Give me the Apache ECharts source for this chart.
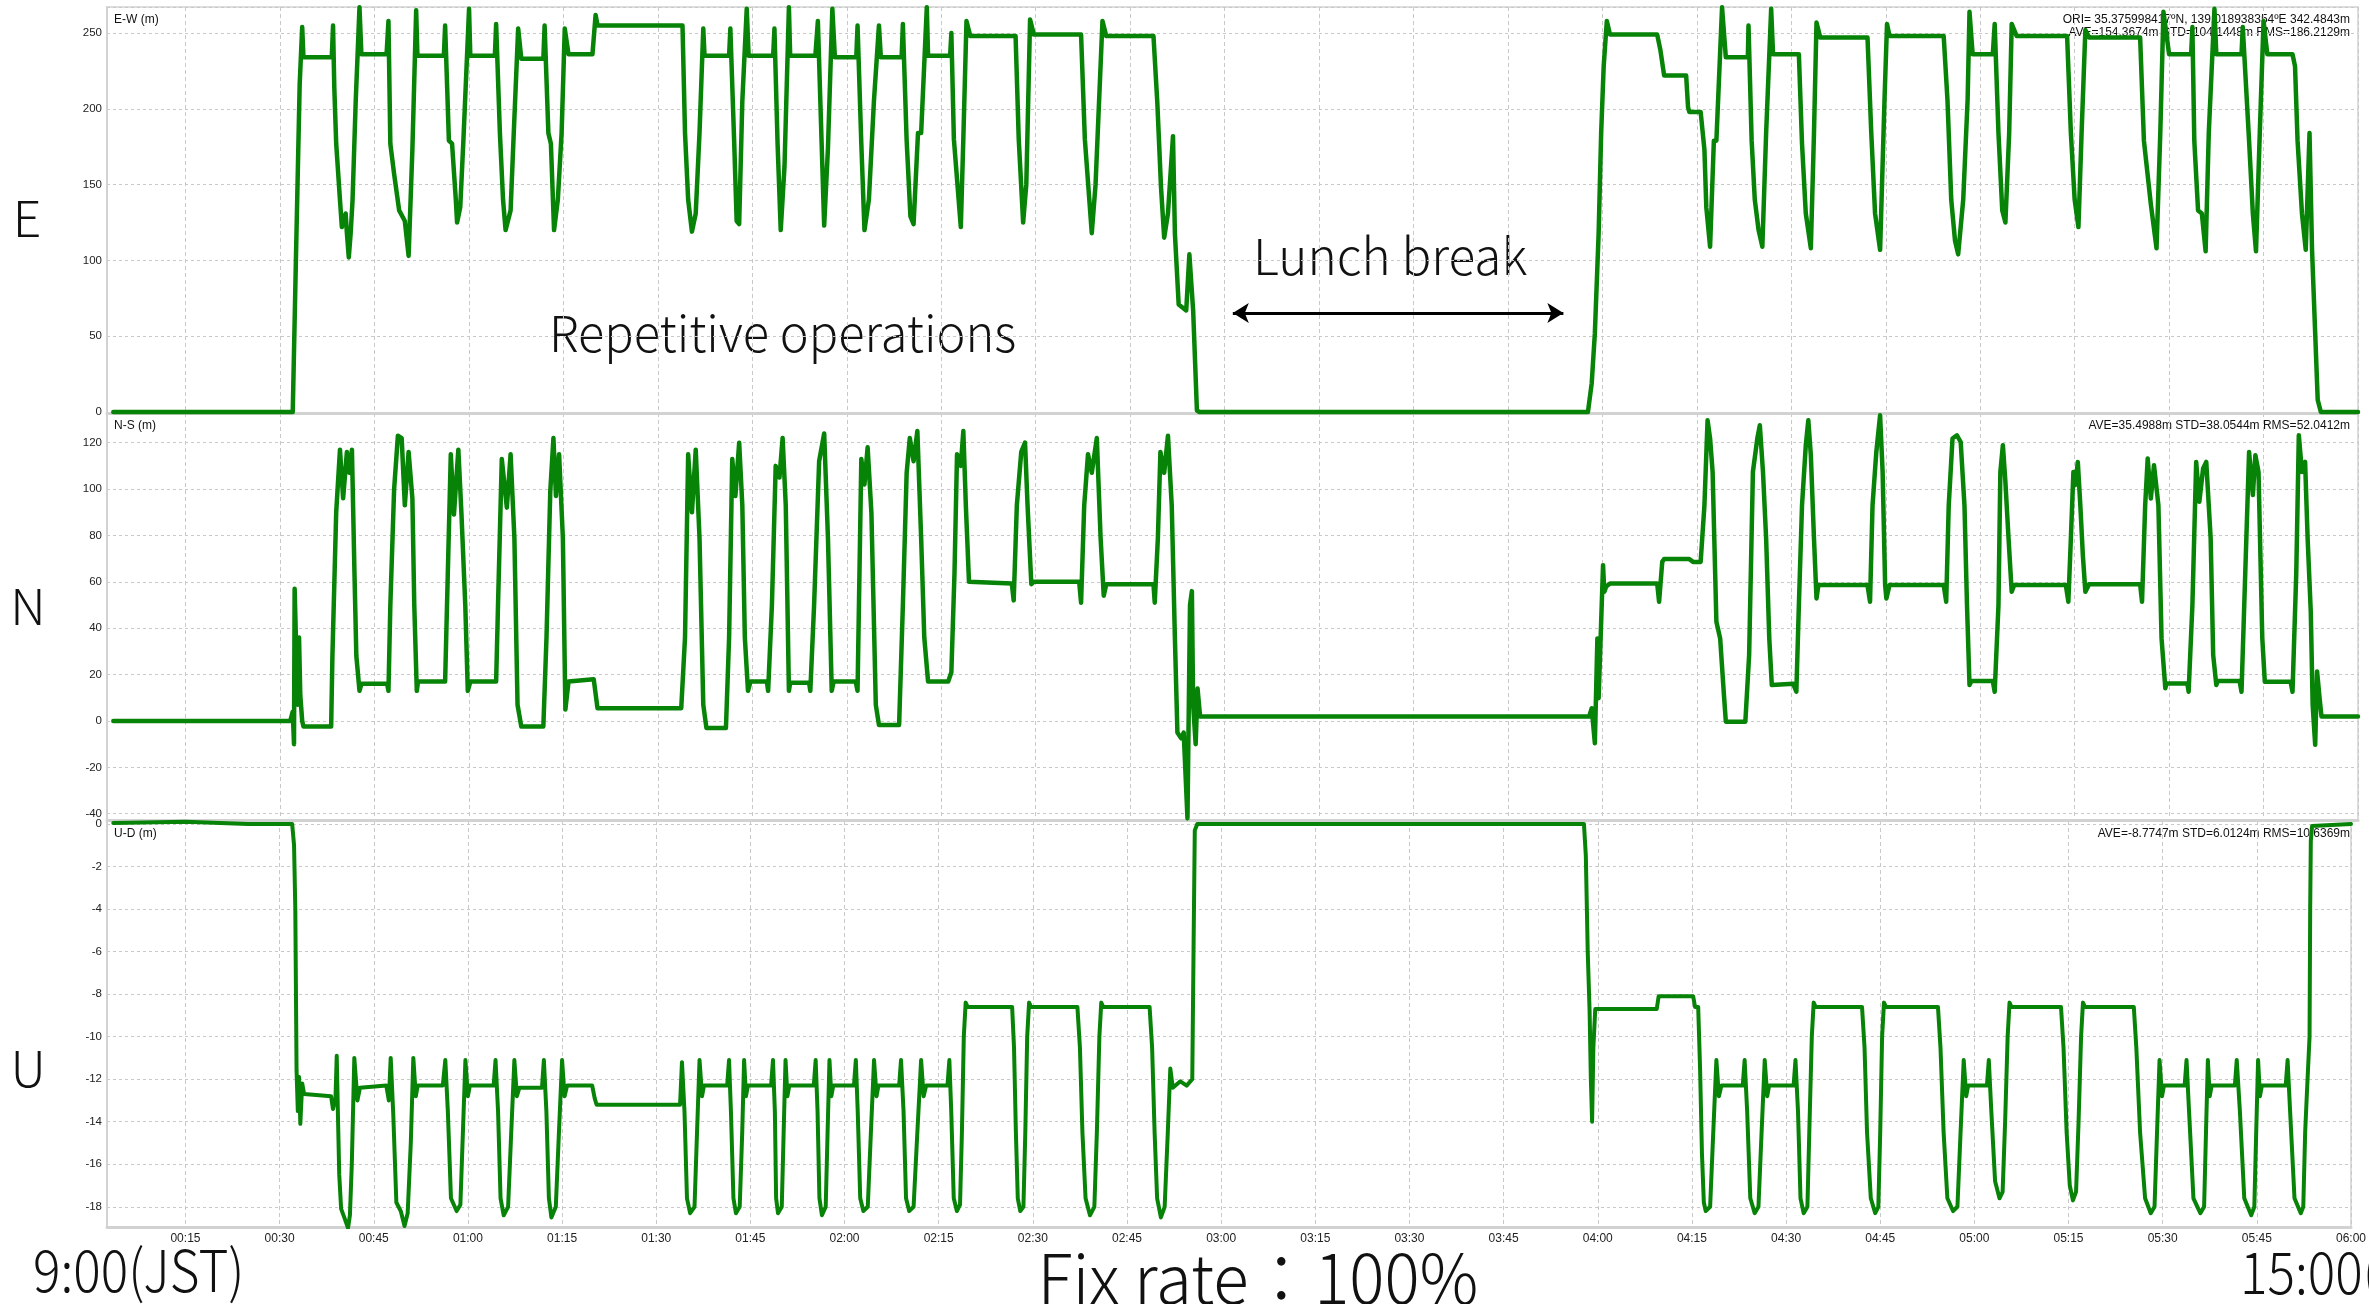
<!DOCTYPE html>
<html><head><meta charset="utf-8">
<script src="https://cdn.jsdelivr.net/npm/echarts@6/dist/echarts.min.js"></script>
<style>html,body{margin:0;padding:0;background:#fff;overflow:hidden}#c{width:2369px;height:1304px}</style>
</head><body><div id="c"></div>
<script>
// ---------- DATA (time in minutes from 9:00 JST, values in metres) ----------
const timeRange = [2.5, 360];
const timeStep = 15;
const ewRange = [-0.66, 267.2];
const nsRange = [-42.7, 132.8];
const udRange = [-18.95, 0.14];
const ewStep = 50, nsStep = 20, udStep = 2;

const panelTitles = ['E-W (m)', 'N-S (m)', 'U-D (m)'];
const panelLetters = ['E', 'N', 'U'];
const ewStats = ['ORI= 35.375998417\u00baN, 139.018938354\u00baE 342.4843m', 'AVE=154.3674m STD=104.1448m RMS=186.2129m'];
const nsStats = ['AVE=35.4988m STD=38.0544m RMS=52.0412m'];
const udStats = ['AVE=-8.7747m STD=6.0124m RMS=10.6369m'];
const lunchArrow = [[181.3, 65.3], [233.8, 65.3]];

const ewMorning = [
[3.5,0],[32.0,0],[32.5,100],[33.1,216],[33.5,254],[33.7,234],[38.2,234],[38.4,255],[38.6,214],[38.9,177],[39.5,140],[39.8,122],[40.1,126],[40.4,131],[40.6,118],[40.9,102],[41.2,118],[41.5,140],[42.0,205],[42.6,267],[42.9,236],
[46.9,236],[47.2,258],[47.5,177],[48.1,157],[48.9,133],[49.8,126],[50.4,103],[51.0,173],[51.6,265],[51.8,235],
[56.0,235],[56.2,255],[56.8,179],[57.3,177],[57.9,140],[58.1,125],[58.6,135],[59.1,179],[60.0,266],[60.2,235],
[64.1,235],[64.3,256],[64.9,184],[65.4,140],[65.8,120],[66.6,133],[67.1,184],[67.8,253],[68.3,233],
[71.8,233],[72.0,255],[72.6,184],[73.0,177],[73.5,120],[74.1,140],[74.7,184],[75.2,253],[75.8,236],
[79.6,236],[80.1,262],[80.4,255],
[93.9,255],[94.3,184],[94.8,140],[95.4,119],[96.0,131],[96.6,184],[97.2,253],[97.4,235],
[101.3,235],[101.5,253],[102.1,179],[102.5,126],[102.9,124],[103.4,205],[104.1,266],[104.4,235],
[108.3,235],[108.5,253],[109.0,177],[109.5,120],[110.1,162],[110.8,267],[111.0,235],
[115.0,235],[115.4,258],[116.0,177],[116.4,123],[117.0,174],[117.7,266],[118.1,234],
[121.5,234],[121.7,255],[122.3,177],[122.8,120],[123.5,140],[124.3,205],[125.1,255],[125.4,234],
[128.7,234],[128.9,256],[129.5,179],[130.1,129],[130.6,124],[131.3,184],[131.8,184],[132.7,267],[132.9,235],
[136.4,235],[136.6,250],[137.0,180],[138.1,122],[138.5,180],[139.0,258],[139.6,248],
[146.8,248],[147.3,180],[148.0,125],[148.5,150],[149.1,259],[149.7,249],
[157.2,249],[157.8,180],[158.9,118],[159.5,150],[160.6,258],[161.2,248],
[168.7,248],[169.3,205],[169.9,148],[170.4,115],[171.0,131],[171.8,182],[172.1,118],[172.7,71],[173.3,69],[173.9,67],[174.4,104],[175.0,67],[175.6,1],[176.0,0]
];
const ewAfternoon = [
[237.7,0],[238.3,19],[238.8,52],[239.4,118],[239.8,184],[240.2,228],[240.7,258],[241.2,249],
[248.7,249],[249.2,239],[249.8,222],[253.3,222],[253.6,201],[253.8,198],[255.6,198],[256.2,173],[256.5,135],[257.1,109],[257.7,179],[258.1,179],[259.0,267],[259.6,234],
[263.1,234],[263.2,255],[263.7,179],[264.2,140],[264.8,120],[265.4,109],[266.0,184],[266.8,266],[267.1,236],
[271.2,236],[271.7,177],[272.3,131],[273.1,108],[273.6,184],[274.0,257],[274.6,247],
[282.1,247],[282.7,184],[283.3,131],[284.1,107],[284.8,206],[285.2,256],[285.6,248],
[294.2,248],[294.8,206],[295.4,140],[296.0,113],[296.5,104],[297.3,140],[298.0,206],[298.3,264],[298.8,236],
[302.0,236],[302.3,256],[302.9,184],[303.5,133],[304.0,125],[304.6,184],[305.0,256],[305.8,248],
[313.8,248],[314.4,184],[315.0,140],[315.6,122],[316.1,184],[316.7,252],[317.3,247],
[325.4,247],[326.0,179],[327.1,137],[328.0,108],[328.6,184],[329.1,264],[330.0,236],
[333.5,236],[333.7,254],[334.0,179],[334.6,133],[335.2,131],[335.8,106],[336.3,184],[337.2,266],[337.5,236],
[341.5,236],[341.7,254],[342.7,179],[343.3,131],[343.8,106],[344.4,184],[345.0,258],[345.6,236],
[349.6,236],[350.0,228],[350.4,179],[351.1,131],[351.7,107],[352.3,184],[352.7,107],[353.2,52],[353.6,8],[354.1,0],[360,0]
];

const nsMorning = [
[3.5,0],[31.6,0],[32.0,4],[32.2,-10],[32.3,57],[32.5,36],[32.8,7],[33.0,36],[33.2,11],[33.5,0],[33.7,-2.4],
[38.1,-2.4],[38.3,28],[38.9,90],[39.5,117],[40.0,96],[40.6,116],[41.0,107],[41.4,117],[41.8,64],[42.1,28],[42.6,13],[42.9,16],
[47.0,16],[47.2,13],[47.5,50],[48.1,100],[48.7,123],[49.3,122],[49.8,93],[50.4,116],[51.0,96],[51.3,50],[51.7,13],[51.9,17],
[56.2,17],[56.5,50],[57.1,115],[57.6,89],[58.3,117],[58.8,89],[59.4,50],[59.8,13],[60.2,17],
[64.3,17],[64.6,50],[65.2,113],[66.0,92],[66.6,115],[67.2,79],[67.7,7],[68.3,-2.4],
[71.8,-2.4],[72.3,36],[72.9,99],[73.4,122],[73.8,97],[74.3,115],[74.9,79],[75.3,5],[75.8,17],
[79.8,18],[80.4,5.5],
[93.7,5.5],[94.3,36],[94.8,115],[95.4,90],[96.0,117],[96.6,79],[97.2,7],[97.7,-3],
[100.8,-3],[101.3,36],[101.8,113],[102.3,97],[102.9,120],[103.4,93],[103.8,36],[104.3,13],[104.7,17],
[107.3,17],[107.5,13],[108.1,50],[108.7,110],[109.3,105],[109.8,122],[110.3,93],[110.8,13],[111.0,16.5],
[114.0,16.5],[114.2,13],[114.8,50],[115.6,112],[116.4,124],[117.0,79],[117.6,13],[117.9,17],
[121.4,17],[121.7,13],[122.3,113],[122.8,102],[123.3,118],[123.9,90],[124.6,7],[125.1,-1.7],
[128.3,-1.7],[128.9,50],[129.5,107],[130.0,122],[130.6,112],[131.2,125],[131.8,79],[132.3,36],[132.9,17],
[136.1,17],[136.6,21],[137.1,64],[137.5,115],[138.1,110],[138.5,125],[138.9,93],[139.4,60],[139.6,59.3],
[146.2,59.3],[146.5,52],[147.0,93],[147.7,116],[148.3,120],[148.7,93],[149.3,59],[149.7,60],
[156.9,60],[157.2,51],[157.7,93],[158.3,115],[158.9,107],[159.7,122],[160.3,79],[160.8,54],[161.2,59],
[168.7,59],[168.9,51],[169.4,79],[169.8,116],[170.4,107],[171.0,123],[171.6,93],[172.1,36],[172.5,-5],[173.1,-7.5],[173.5,-5],[174.1,-42],[174.5,50],[174.8,56],[175.0,7],[175.4,-10],[175.7,14],[176.1,1.9]
];
const nsAfternoon = [
[237.9,1.9],[238.3,5.5],[238.8,-9.6],[239.2,35.6],[239.4,9.8],[239.8,42.8],[240.1,67.2],[240.3,55.7],[240.6,58],[241.2,59.3],
[248.7,59.3],[249.0,51.4],[249.5,68.6],[249.8,69.8],[253.8,69.8],[254.4,68.6],[255.6,68.6],[256.2,93],[256.7,129.7],[257.1,121.8],[257.5,107.4],[258.1,42.8],[258.7,35.6],[259.3,11.2],[259.6,-0.3],
[262.7,-0.3],[263.3,28.4],[263.9,107.4],[264.6,121.8],[265.0,127.5],[265.5,107.4],[266.0,78.7],[266.5,35.6],[266.9,15.5],[267.1,16],
[270.3,16],[270.8,12.6],[271.2,50],[271.7,93],[272.3,118.9],[272.7,129.7],[273.1,114.6],[273.6,78.7],[274.0,52.8],[274.3,58.6],
[282.1,58.6],[282.5,51.4],[282.9,93],[283.5,116],[284.1,131.8],[284.5,107.4],[284.9,58.6],[285.1,52.8],[285.6,58.6],
[294.2,58.6],[294.6,51.4],[295.0,93],[295.6,121.8],[296.3,123.2],[296.9,120.3],[297.5,93],[297.9,50],[298.3,15.5],[298.6,17.2],
[302.0,17.2],[302.3,12.6],[302.9,50],[303.2,107.4],[303.6,118.9],[304.0,103.1],[304.5,78.7],[305.0,55.7],[305.4,58.6],
[313.6,58.6],[314.0,51.4],[314.4,78.7],[314.8,107.4],[315.1,101.7],[315.5,111.7],[315.9,93],[316.3,71.5],[316.7,55.7],[317.3,59],
[325.4,59],[325.7,51.4],[326.2,93],[326.6,113.2],[327.1,95.9],[327.6,110.3],[328.3,93],[328.8,35.6],[329.4,14.1],[329.6,16.2],
[332.9,16.2],[333.1,12.6],[333.7,50],[334.3,111.7],[334.8,94.5],[335.4,108.9],[335.9,111.7],[336.6,78.7],[337.0,28.4],[337.5,15.5],[337.7,17.2],
[341.2,17.2],[341.5,12.6],[342.1,64.3],[342.7,116],[343.3,97.4],[343.7,114.6],[344.2,107.4],[344.8,35.6],[345.2,16.9],
[349.3,16.9],[349.6,12.6],[350.2,64.3],[350.6,123.2],[351.1,107.4],[351.6,111.7],[352.0,78.7],[352.5,47.1],[352.8,6.9],[353.2,-10.3],[353.5,21.3],[353.9,9.8],[354.2,1.9],[360,1.9]
];

const udMorning = [
[3.5,0.05],[15,0.1],[25,0.0],[32.0,0.0],[32.3,-1.0],[32.5,-4.0],[32.7,-11.6],[32.9,-13.5],[33.1,-11.9],[33.3,-14.1],[33.6,-12.2],[33.9,-12.7],
[38.2,-12.8],[38.5,-13.4],[38.9,-12.9],[39.1,-10.9],[39.3,-13.8],[39.5,-16.5],[39.8,-18.1],[40.3,-18.5],[40.9,-19.0],[41.2,-18.4],[41.5,-16.0],[41.9,-11.0],[42.4,-13.0],[42.8,-12.4],
[47.0,-12.3],[47.4,-13.0],[47.7,-11.0],[48.1,-13.6],[48.6,-17.8],[49.3,-18.2],[49.9,-18.9],[50.4,-18.3],[50.9,-15.0],[51.3,-11.0],[51.7,-12.8],[52.0,-12.3],
[56.0,-12.3],[56.4,-11.1],[56.8,-13.5],[57.3,-17.6],[58.2,-18.2],[58.8,-17.9],[59.2,-14.5],[59.6,-11.1],[60.0,-12.8],[60.3,-12.3],
[64.1,-12.3],[64.4,-11.1],[64.8,-13.5],[65.2,-17.6],[65.7,-18.4],[66.4,-18.0],[66.9,-14.5],[67.4,-11.1],[67.8,-12.8],[68.2,-12.4],
[71.8,-12.4],[72.1,-11.1],[72.5,-13.5],[72.9,-17.6],[73.3,-18.5],[74.0,-18.0],[74.5,-14.5],[75.0,-11.1],[75.4,-12.8],[75.8,-12.3],
[79.8,-12.3],[80.2,-12.9],[80.5,-13.2],[93.8,-13.2],[94.1,-11.2],[94.5,-13.5],[94.9,-17.6],[95.4,-18.3],[96.1,-18.0],[96.5,-14.5],[96.9,-11.1],[97.3,-12.8],[97.6,-12.3],
[101.3,-12.3],[101.6,-11.1],[101.9,-13.5],[102.3,-17.6],[102.7,-18.3],[103.3,-18.0],[103.7,-14.5],[104.0,-11.1],[104.3,-12.8],[104.6,-12.3],
[108.3,-12.3],[108.6,-11.1],[108.9,-13.5],[109.1,-17.6],[109.4,-18.3],[110.0,-18.0],[110.3,-14.5],[110.6,-11.1],[110.9,-12.8],[111.2,-12.3],
[115.1,-12.3],[115.4,-11.1],[115.7,-13.5],[116.0,-17.6],[116.4,-18.4],[117.0,-18.0],[117.3,-14.5],[117.6,-11.1],[117.9,-12.8],[118.2,-12.3],
[121.5,-12.3],[121.8,-11.1],[122.1,-13.5],[122.5,-17.6],[123.0,-18.2],[123.7,-18.0],[124.2,-14.5],[124.7,-11.1],[125.1,-12.8],[125.4,-12.3],
[128.7,-12.3],[129.0,-11.1],[129.4,-13.5],[129.8,-17.6],[130.3,-18.2],[131.0,-18.0],[131.6,-14.5],[132.2,-11.1],[132.6,-12.8],[133.0,-12.3],
[136.4,-12.3],[136.7,-11.1],[137.0,-13.5],[137.4,-17.6],[137.9,-18.2],[138.4,-17.9],[138.7,-14.5],[139.0,-10.0],[139.3,-8.4],[139.6,-8.6],
[146.7,-8.6],[147.0,-10.5],[147.3,-14.5],[147.6,-17.6],[148.0,-18.2],[148.5,-18.0],[148.8,-14.5],[149.1,-10.0],[149.4,-8.4],[149.7,-8.6],
[157.1,-8.6],[157.5,-10.5],[157.9,-14.5],[158.4,-17.6],[159.1,-18.4],[159.8,-18.0],[160.2,-14.5],[160.6,-10.0],[160.9,-8.4],[161.2,-8.6],
[168.6,-8.6],[169.0,-10.5],[169.4,-14.5],[169.8,-17.6],[170.4,-18.5],[171.0,-18.0],[171.5,-14.5],[171.9,-11.5],[172.3,-12.4],[173.5,-12.1],[174.5,-12.3],[175.4,-12.0],[175.6,-6],[175.8,-0.3],[176.2,0.0]
];
const udAfternoon = [
[237.8,0.0],[238.1,-1.5],[238.4,-6.0],[238.7,-8.8],[238.9,-12.0],[239.1,-14.0],[239.3,-10.5],[239.6,-8.7],
[249.4,-8.7],[249.7,-8.1],[255.2,-8.1],[255.5,-8.6],[256.0,-8.6],[256.3,-11.5],[256.6,-15.5],[256.9,-17.8],[257.2,-18.2],[257.9,-18.0],[258.4,-14.5],[258.9,-11.1],[259.3,-12.8],[259.7,-12.3],
[263.1,-12.3],[263.4,-11.1],[263.8,-13.5],[264.3,-17.6],[265.0,-18.3],[265.6,-18.0],[266.1,-14.5],[266.6,-11.1],[267.0,-12.8],[267.3,-12.3],
[271.2,-12.3],[271.5,-11.1],[271.9,-13.5],[272.3,-17.6],[272.8,-18.3],[273.4,-18.0],[273.7,-14.5],[274.1,-10.0],[274.4,-8.4],[274.7,-8.6],
[282.1,-8.6],[282.5,-10.5],[282.9,-14.5],[283.5,-17.6],[284.2,-18.3],[284.7,-18.0],[285.0,-14.5],[285.3,-10.0],[285.6,-8.4],[285.9,-8.6],
[294.2,-8.6],[294.6,-10.5],[295.1,-14.5],[295.7,-17.6],[296.6,-18.2],[297.3,-18.0],[297.8,-14.5],[298.3,-11.1],[298.7,-12.8],[299.0,-12.3],
[302.0,-12.3],[302.3,-11.1],[302.7,-13.5],[303.3,-16.8],[304.0,-17.6],[304.5,-17.3],[304.9,-14.0],[305.3,-10.0],[305.6,-8.4],[305.9,-8.6],
[313.8,-8.6],[314.2,-10.5],[314.7,-14.5],[315.2,-17.0],[315.7,-17.7],[316.2,-17.3],[316.6,-14.0],[317.0,-10.0],[317.3,-8.4],[317.6,-8.6],
[325.4,-8.6],[325.8,-10.5],[326.4,-14.5],[327.2,-17.6],[328.1,-18.3],[328.7,-18.0],[329.1,-14.5],[329.5,-11.1],[329.9,-12.8],[330.2,-12.3],
[333.5,-12.3],[333.8,-11.1],[334.2,-13.5],[334.9,-17.6],[336.0,-18.3],[336.6,-18.0],[336.9,-14.5],[337.2,-11.1],[337.5,-12.8],[337.8,-12.3],
[341.5,-12.3],[341.8,-11.1],[342.3,-13.5],[343.0,-17.6],[344.1,-18.4],[344.6,-18.0],[344.9,-14.5],[345.2,-11.1],[345.5,-12.8],[345.8,-12.3],
[349.6,-12.3],[349.9,-11.1],[350.3,-13.5],[351.0,-17.6],[352.0,-18.3],[352.4,-18.0],[352.7,-14.5],[353.0,-12.5],[353.4,-10.0],[353.5,-4.0],[353.6,-0.8],[353.8,-0.1],[360,0.0]
];

// ---------- CHART ----------
const GREEN = '#078307';
const GRID_C = '#c9c9c9';
const BORDER_C = '#d2d2d2';
const LABEL_FONT = 'Liberation Sans';
const BIG_FONT = 'Noto Sans CJK JP';
const pad = n => (n < 10 ? '0' : '') + n;
const fmtTime = v => { const m = Math.round(v); return pad(Math.floor(m / 60)) + ':' + pad(m % 60); };

const grids = [
  { left: 107, top: 7, width: 2251, height: 406 },
  { left: 107, top: 413, width: 2251, height: 407 },
  { left: 107, top: 821, width: 2251, height: 406 }
];
const ranges = [ewRange, nsRange, udRange];
const steps = [ewStep, nsStep, udStep];

const chart = echarts.init(document.getElementById('c'), null, { renderer: 'canvas' });

const xAxes = grids.map((g, i) => ({
  type: 'value', gridIndex: i, min: timeRange[0], max: timeRange[1],
  minInterval: timeStep, maxInterval: timeStep,
  axisLine: { show: true, onZero: false, lineStyle: { color: BORDER_C, width: 3 } },
  axisTick: { show: false },
  axisLabel: {
    show: i === 2, showMinLabel: false, margin: 6, color: '#222',
    fontFamily: LABEL_FONT, fontSize: 12, formatter: fmtTime
  },
  splitLine: { show: true, lineStyle: { color: GRID_C, type: [4, 3], width: 1 } }
}));
const yAxes = grids.map((g, i) => ({
  type: 'value', gridIndex: i, min: ranges[i][0], max: ranges[i][1],
  minInterval: steps[i], maxInterval: steps[i],
  axisLine: { show: true, lineStyle: { color: BORDER_C, width: 2 } },
  axisTick: { show: false },
  axisLabel: {
    showMinLabel: false, showMaxLabel: false, margin: 5, color: '#222',
    fontFamily: LABEL_FONT, fontSize: 11.5
  },
  splitLine: { show: true, lineStyle: { color: GRID_C, type: [3, 3], width: 1 } }
}));

const lineSeries = (data, i, w, extra) => Object.assign({
  type: 'line', xAxisIndex: i, yAxisIndex: i, data: data,
  showSymbol: false, symbol: 'none', silent: true, animation: false,
  lineStyle: { color: GREEN, width: w, join: 'round', cap: 'round' }
}, extra || {});

const txt = (text, x, y, font, align, sx) => ({
  type: 'text', x: x, y: y, scaleX: sx || 1, silent: true,
  style: { text: text, font: font, fill: '#111', align: align || 'left', verticalAlign: 'middle' }
});
const small = '12px "' + LABEL_FONT + '"';
const bigFont = s => '300 ' + s + 'px "' + BIG_FONT + '"';

const graphics = [
  txt(panelTitles[0], 114, 20, small), txt(panelTitles[1], 114, 426, small), txt(panelTitles[2], 114, 834, small),
  txt(ewStats[0], 2350, 20, small, 'right'), txt(ewStats[1], 2350, 33, small, 'right'),
  txt(nsStats[0], 2350, 426, small, 'right'), txt(udStats[0], 2350, 834, small, 'right'),
  txt(panelLetters[0], 27, 218, bigFont(50), 'center'),
  txt(panelLetters[1], 28, 606, bigFont(50), 'center'),
  txt(panelLetters[2], 28, 1068, bigFont(50), 'center'),
  txt('Lunch break', 1253, 256, bigFont(50), 'left', 0.99),
  txt('Repetitive operations', 549, 333, bigFont(50), 'left', 0.975),
  txt('9:00(JST)', 33, 1270, bigFont(58), 'left', 0.885),
  txt('Fix rate\uff1a100%', 1258, 1278, bigFont(68), 'center', 0.965),
  txt('15:00(JST)', 2240, 1272, bigFont(58), 'left', 0.885)
];

chart.setOption({
  animation: false,
  backgroundColor: '#ffffff',
  grid: grids.map(g => Object.assign({ show: true, borderColor: BORDER_C, borderWidth: 1.5, backgroundColor: 'transparent' }, g)),
  xAxis: xAxes,
  yAxis: yAxes,
  series: [
    lineSeries(ewMorning.concat(ewAfternoon), 0, 4.5, {
      markLine: {
        silent: true, symbol: ['arrow', 'arrow'], symbolSize: [15, 16],
        label: { show: false },
        lineStyle: { color: '#000', width: 3, type: 'solid' },
        emphasis: { disabled: true },
        data: [[{ coord: lunchArrow[0] }, { coord: lunchArrow[1] }]]
      }
    }),
    lineSeries(nsMorning.concat(nsAfternoon), 1, 4.5),
    lineSeries(udMorning.concat(udAfternoon), 2, 4)
  ],
  graphic: graphics
});
</script>
</body></html>
